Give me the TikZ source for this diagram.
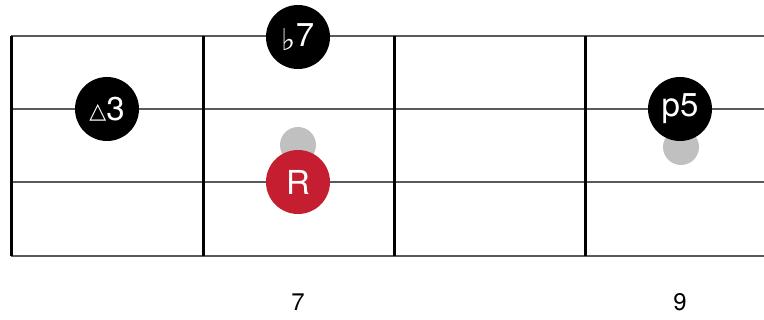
\documentclass[tikz,border=0pt]{standalone}
\usepackage{fontspec}
\setmainfont{TeX Gyre Heros}
\newfontfamily\symfont{DejaVu Sans}
\definecolor{rootred}{RGB}{196,30,48}
\definecolor{ghostgrey}{RGB}{192,192,192}
\definecolor{stringgrey}{RGB}{90,90,90}

\begin{document}
\begin{tikzpicture}[x=1pt,y=-1pt]
  \tikzstyle{tone}=[circle, fill=black, text=white, inner sep=0pt, minimum size=64pt,
font=\fontsize{33}{33}\selectfont]
  \tikzstyle{root}=[tone, fill=rootred]
  \tikzstyle{ghost}=[circle, fill=ghostgrey, inner sep=0pt, minimum size=36pt]
  \tikzstyle{fretnum}=[font=\fontsize{24}{24}\selectfont]
  \useasboundingbox (0,0) rectangle (764,320);
  % strings
  \foreach \y in {36,109,182,256}
    \draw[stringgrey, line width=1.5pt] (11,\y) -- (764,\y);
  % frets
  \foreach \x in {11,203,394,585}
    \draw[black, line width=3pt] (\x,36) -- (\x,256);

  \node[ghost] (S_1) at (298,145) {};
  \node[ghost] (S_2) at (681,147) {};

  \node[tone] (N_3) at (107,109) {\raisebox{2pt}{\symfont\fontsize{22}{22}\selectfont △}3};
  \node[tone] (N_7) at (298,37) {\raisebox{-4pt}{\symfont\fontsize{30}{30}\selectfont ♭}7};
  \node[root] (N_R) at (298,182) {R};
  \node[tone] (N_5) at (680,109) {p5};

  \node[fretnum] (F_7) at (298,302) {7};
  \node[fretnum] (F_9) at (680,302) {9};
\end{tikzpicture}
\end{document}
